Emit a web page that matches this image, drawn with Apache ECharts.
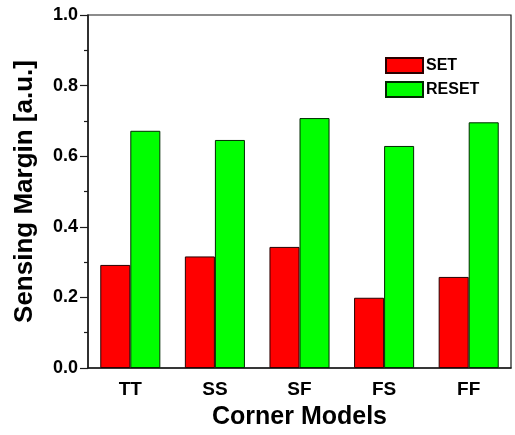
<!DOCTYPE html>
<html>
<head>
<meta charset="utf-8">
<script src="https://cdn.jsdelivr.net/npm/echarts@6/dist/echarts.min.js"></script>
<style>
  html, body { margin: 0; padding: 0; background: #fff; }
  #chart { width: 515px; height: 435px; }
</style>
</head>
<body>
<div id="chart"></div>
<script>
// Sensing margin per process corner, for SET and RESET operations
const corners = ['TT', 'SS', 'SF', 'FS', 'FF'];
const setMargin = [0.292, 0.316, 0.343, 0.199, 0.258];
const resetMargin = [0.672, 0.646, 0.708, 0.629, 0.696];
const yTicks = { min: 0, max: 1.0, step: 0.2 };

const FONT = '"Liberation Sans", Arial, Helvetica, sans-serif';
const INK = '#1a1a1a';

const chart = echarts.init(document.getElementById('chart'), null, { renderer: 'canvas' });

chart.setOption({
  animation: false,
  backgroundColor: '#fff',
  textStyle: { fontFamily: FONT },
  grid: {
    left: 88, right: 4, top: 15, bottom: 66,
    show: true, borderColor: INK, borderWidth: 1.2, backgroundColor: 'transparent'
  },
  legend: {
    orient: 'vertical',
    left: 380, top: 52,
    itemWidth: 37, itemHeight: 15, itemGap: 7,
    icon: 'rect',
    textStyle: { fontFamily: FONT, fontWeight: 'bold', fontSize: 16, color: '#000', padding: [0, 0, 0, -2] },
    data: ['SET', 'RESET']
  },
  xAxis: [
    {
      type: 'category',
      data: corners,
      name: 'Corner Models',
      nameLocation: 'middle',
      nameGap: 37,
      nameTextStyle: { fontFamily: FONT, fontWeight: 'bold', fontSize: 25, color: '#000' },
      axisLine: { lineStyle: { color: INK, width: 1.5 } },
      axisTick: { alignWithLabel: true, length: 6, lineStyle: { color: INK, width: 1.2 } },
      axisLabel: { fontFamily: FONT, fontWeight: 'bold', fontSize: 19, color: '#000', margin: 12 }
    },
    {
      // minor ticks at the category boundaries
      type: 'category',
      data: corners,
      position: 'bottom',
      axisLine: { show: false },
      axisTick: { length: 3, lineStyle: { color: INK, width: 1.2 } },
      axisLabel: { show: false }
    }
  ],
  yAxis: {
    type: 'value',
    min: yTicks.min,
    max: yTicks.max,
    interval: yTicks.step,
    name: 'Sensing Margin [a.u.]',
    nameLocation: 'middle',
    nameGap: 50,
    nameTextStyle: { fontFamily: FONT, fontWeight: 'bold', fontSize: 26, color: '#000' },
    axisLine: { show: true, lineStyle: { color: INK, width: 1.5 } },
    axisTick: { show: true, length: 8, lineStyle: { color: INK, width: 1.2 } },
    minorTick: { show: true, splitNumber: 2, length: 4, lineStyle: { color: INK, width: 1.2 } },
    splitLine: { show: false },
    axisLabel: {
      fontFamily: FONT, fontWeight: 'bold', fontSize: 18, color: '#000', margin: 10,
      formatter: v => v.toFixed(1)
    }
  },
  series: [
    {
      name: 'SET',
      type: 'bar',
      xAxisIndex: 0,
      data: setMargin,
      barGap: '0%',
      barCategoryGap: '29%',
      itemStyle: { color: '#ff0000', borderColor: '#2a0000', borderWidth: 1 }
    },
    {
      name: 'RESET',
      type: 'bar',
      xAxisIndex: 0,
      data: resetMargin,
      barGap: '0%',
      barCategoryGap: '29%',
      itemStyle: { color: '#00ff00', borderColor: '#002a00', borderWidth: 1 }
    }
  ]
});
</script>
</body>
</html>
